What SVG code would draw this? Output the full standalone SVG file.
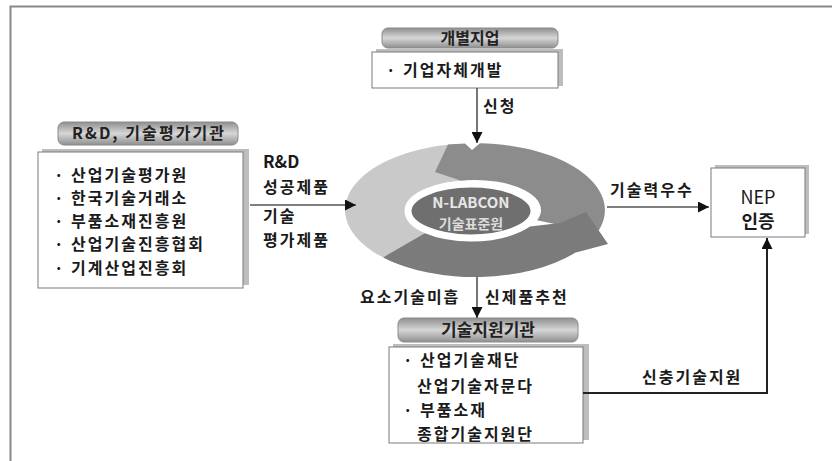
<svg xmlns="http://www.w3.org/2000/svg" width="832" height="461" viewBox="0 0 832 461">
<style>
text{font-family:"Noto Sans CJK KR","Liberation Sans",sans-serif;font-weight:bold;fill:#1a1a1a}
.t18{font-size:16px;letter-spacing:2px}
.hd{font-size:16px;text-anchor:middle;fill:#222}
.box{fill:#fff;stroke:#7a7a7a;stroke-width:1}
.shadow{fill:#bdbdbd}
.pill{fill:url(#pg);stroke:#8a8a8a;stroke-width:1}
.conn{fill:none;stroke:#555;stroke-width:1.6}
.mid{text-anchor:middle}
</style>
<defs>
<linearGradient id="pg" x1="0" y1="0" x2="0" y2="1">
<stop offset="0" stop-color="#8f8f8f"/>
<stop offset="0.5" stop-color="#d6d6d6"/>
<stop offset="1" stop-color="#8f8f8f"/>
</linearGradient>
<marker id="ah" viewBox="0 0 10 10" refX="10" refY="5" markerWidth="11" markerHeight="11" markerUnits="userSpaceOnUse" orient="auto">
<path d="M0,0 L10,5 L0,10 z" fill="#111"/>
</marker>
</defs>
<rect width="832" height="461" fill="#fff"/>
<path d="M10.5,461 V6.5 H832" fill="none" stroke="#888" stroke-width="2"/>

<g id="individual">
<rect class="pill" x="382" y="28" width="176" height="20" rx="6"/>
<text class="hd" x="470" y="44">개별지업</text>
<rect class="shadow" x="376" y="49" width="187" height="37"/>
<rect class="box" x="372" y="52" width="186" height="36"/>
<text class="t18" x="386" y="76">· 기업자체개발</text>
</g>

<g id="rnd">
<rect class="pill" x="58" y="122" width="180" height="23" rx="6"/>
<text class="hd" x="148" y="139" textLength="152" lengthAdjust="spacing">R&amp;D, 기술평가기관</text>
<rect class="shadow" x="42" y="149" width="207" height="136"/>
<rect class="box" x="38" y="152" width="205" height="136"/>
<text class="t18" x="54" y="180.5">· 산업기술평가원</text>
<text class="t18" x="54" y="203.8">· 한국기술거래소</text>
<text class="t18" x="54" y="227">· 부품소재진흥원</text>
<text class="t18" x="54" y="250.3">· 산업기술진흥협회</text>
<text class="t18" x="54" y="273.6">· 기계산업진흥회</text>
</g>

<g id="nlabcon">
<path d="M456.9,143.7 A130,67 0 0 0 400.4,264.9 L437.1,234.6 A66,30 0 0 1 465.8,180.3 Z" fill="#c9c9c9"/>
<path d="M435,172 L448,144.5 L465,143.5 L472,150 L480,143.2 A130,67 0 0 1 597.2,232.9 L537,220.3 A66,30 0 0 0 461.3,180.7 Z" fill="#8c8c8c"/>
<path d="M383.1,257.4 A130,67 0 0 0 575,252.8 L608,244 L586,212 L560,223 L530,226.6 A66,30 0 0 1 428.3,231.2 Z" fill="#7b7b7b"/>
<ellipse cx="471" cy="211" rx="63" ry="27" fill="#6f6f6f" stroke="#fff" stroke-width="7"/>
<text class="mid" x="471" y="208" style="font-size:15px;fill:#e6e6e6">N-LABCON</text>
<text class="mid" x="471" y="229" style="font-size:14px;fill:#dcdcdc">기술표준원</text>
</g>

<g id="nep">
<rect class="shadow" x="715" y="165" width="94" height="69"/>
<rect class="box" x="711" y="168" width="94" height="69"/>
<text class="mid" x="758" y="204" style="font-size:18px;font-weight:normal">NEP</text>
<text class="mid" x="758" y="228" style="font-size:18px">인증</text>
</g>

<g id="support">
<rect class="pill" x="398" y="318" width="180" height="24" rx="6"/>
<text class="hd" x="488" y="336" style="font-size:17px">기술지원기관</text>
<rect class="shadow" x="393" y="344" width="196" height="96"/>
<rect class="box" x="389" y="347" width="194" height="96"/>
<text class="t18" x="403" y="366">· 산업기술재단</text>
<text class="t18" x="417" y="392">산업기술자문다</text>
<text class="t18" x="403" y="416">· 부품소재</text>
<text class="t18" x="417" y="439.5">종합기술지원단</text>
</g>

<g id="connectors">
<path class="conn" d="M477,88 V143" marker-end="url(#ah)"/>
<path class="conn" d="M250,205 H356" marker-end="url(#ah)"/>
<path class="conn" d="M607,207 H709" marker-end="url(#ah)"/>
<path class="conn" d="M477,277 V318" marker-end="url(#ah)"/>
<path d="M583,393 H767 V238" fill="none" stroke="#222" stroke-width="2" marker-end="url(#ah)"/>
</g>

<g id="labels">
<text class="t18" x="483" y="112">신청</text>
<text x="263" y="168" style="font-size:17px">R&amp;D</text>
<text class="t18" x="263" y="193">성공제품</text>
<text class="t18" x="263" y="222">기술</text>
<text class="t18" x="263" y="246">평가제품</text>
<text class="t18" x="610" y="196">기술력우수</text>
<text class="t18" x="360" y="303">요소기술미흡</text>
<text class="t18" x="485" y="303">신제품추천</text>
<text class="t18" x="642" y="383">신충기술지원</text>
</g>
</svg>
